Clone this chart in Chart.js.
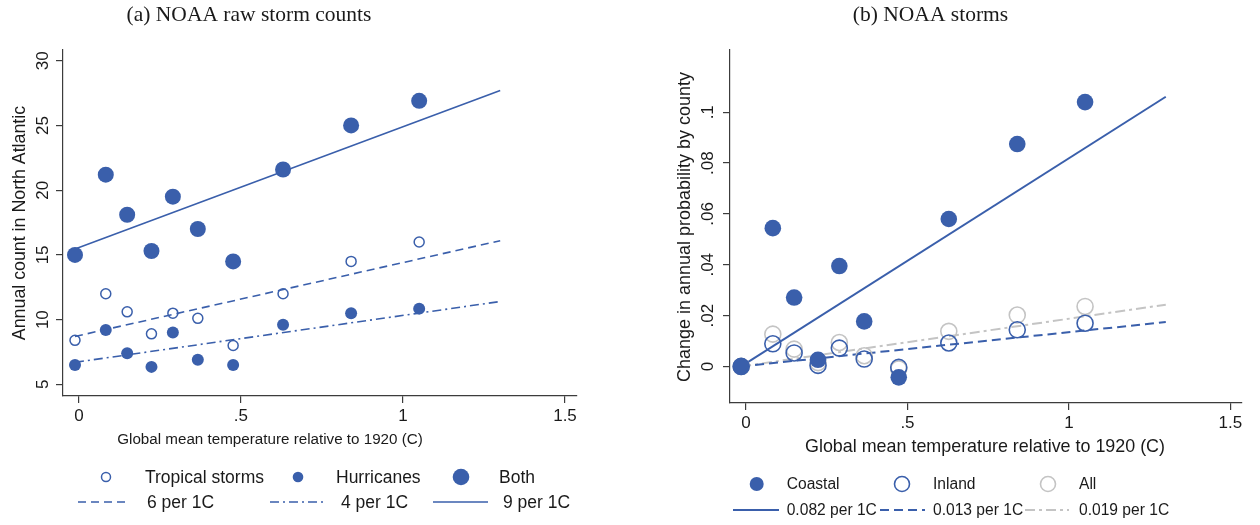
<!DOCTYPE html>
<html>
<head>
<meta charset="utf-8">
<script src="https://cdn.jsdelivr.net/npm/chart.js@4"></script>
<style>
  body { margin: 0; background: #fff; width: 1260px; height: 525px; overflow: hidden; }
  .panel { position: absolute; top: 0; width: 630px; height: 525px; }
  #pa { left: 0; }
  #pb { left: 630px; }
</style>
</head>
<body>
<div class="panel" id="pa"><canvas id="chartA" width="630" height="525"></canvas></div>
<div class="panel" id="pb"><canvas id="chartB" width="630" height="525"></canvas></div>
<script>
// ---- panel (a): NOAA raw storm counts ----
const tempA = [-0.012, 0.083, 0.149, 0.224, 0.29, 0.367, 0.476, 0.63, 0.84, 1.05];
const tropicalStorms = [8.4, 12.0, 10.6, 8.9, 10.5, 10.1, 8.0, 12.0, 14.5, 16.0];
const hurricanes = [6.5, 9.2, 7.4, 6.35, 9.0, 6.9, 6.5, 9.6, 10.5, 10.85];
const bothStorms = [15.0, 21.2, 18.1, 15.3, 19.5, 17.0, 14.5, 21.6, 25.0, 26.9];
const fitXA = [-0.012, 1.30];
const fitTropical = [8.7, 16.1];
const fitHurricanes = [6.7, 11.4];
const fitBoth = [15.45, 27.7];

// ---- panel (b): NOAA storms ----
const tempB = [-0.015, 0.083, 0.149, 0.223, 0.289, 0.366, 0.473, 0.628, 0.84, 1.05];
const coastal = [0, 0.0544, 0.0271, 0.0026, 0.0395, 0.0177, -0.0043, 0.058, 0.0875, 0.104];
const inland = [0, 0.0089, 0.0053, 0.0004, 0.0072, 0.0029, -0.0004, 0.0092, 0.0144, 0.017];
const allCounties = [0, 0.0127, 0.0068, 0.0015, 0.0094, 0.0042, -0.001, 0.0138, 0.0202, 0.0236];
const fitXB = [-0.015, 1.30];
const fitCoastal = [0, 0.1061];
const fitInland = [0, 0.01745];
const fitAll = [0, 0.0243];

// ticks
const xTicks = [0, 0.5, 1, 1.5];
const xTickLabels = ['0', '.5', '1', '1.5'];
const yTicksA = [5, 10, 15, 20, 25, 30];
const yTickLabelsA = ['5', '10', '15', '20', '25', '30'];
const yTicksB = [0, 0.02, 0.04, 0.06, 0.08, 0.1];
const yTickLabelsB = ['0', '.02', '.04', '.06', '.08', '.1'];

const BLUE = '#3a5fab';
const GRAY = '#c4c4c4';
const AXIS = '#3c3c3c';
const TEXT = '#1a1a1a';
const SANS = '"Liberation Sans", Arial, sans-serif';
const SERIF = '"Liberation Serif", "Times New Roman", serif';
const NONE = 'rgba(0,0,0,0)';

const pts = (xs, ys) => xs.map((x, i) => ({ x: x, y: ys[i] }));

function markers(label, ys, xs, r, filled, color, bw) {
  return {
    label: label, data: pts(xs, ys), showLine: false, order: 0,
    pointRadius: r, pointBorderWidth: filled ? 0 : bw,
    pointBorderColor: color, pointBackgroundColor: filled ? color : NONE,
    legendR: null, filled: filled
  };
}

function fitLine(label, xs, ys, color, width, dash) {
  return {
    label: label, data: pts(xs, ys), showLine: true, order: 5,
    pointRadius: 0, borderColor: color, borderWidth: width, borderDash: dash,
    fill: false
  };
}

// text decorations: titles, rotated y tick labels, legend
const decorPlugin = {
  id: 'decor',
  afterDraw(chart, args, o) {
    const ctx = chart.ctx;
    const ys = chart.scales.y;
    ctx.save();
    ctx.fillStyle = TEXT;

    // title
    ctx.font = o.titleFont;
    ctx.textAlign = 'center';
    ctx.textBaseline = 'middle';
    ctx.fillText(o.title, o.titleX, o.titleY);

    // y tick labels, rotated like Stata
    ctx.font = o.tickFont;
    ys.ticks.forEach((t, i) => {
      const py = ys.getPixelForValue(t.value);
      ctx.save();
      ctx.translate(o.yLabelX, py);
      ctx.rotate(-Math.PI / 2);
      ctx.fillText(o.yLabels[i], 0, 0);
      ctx.restore();
    });

    // axis titles
    ctx.font = o.yTitleFont;
    ctx.save();
    ctx.translate(o.yTitleX, o.yTitleY);
    ctx.rotate(-Math.PI / 2);
    ctx.fillText(o.yTitle, 0, 0);
    ctx.restore();
    ctx.font = o.xTitleFont;
    ctx.fillText(o.xTitle, o.xTitleX, o.xTitleY);

    // legend
    ctx.font = o.legendFont;
    ctx.textAlign = 'left';
    o.legend.forEach(it => {
      const ds = chart.data.datasets[it.ds];
      if (ds.showLine) {
        ctx.save();
        ctx.strokeStyle = ds.borderColor;
        ctx.lineWidth = ds.borderWidth;
        ctx.setLineDash(ds.borderDash || []);
        ctx.beginPath();
        ctx.moveTo(it.x[0], it.y);
        ctx.lineTo(it.x[1], it.y);
        ctx.stroke();
        ctx.restore();
      } else {
        ctx.save();
        ctx.beginPath();
        ctx.arc(it.x, it.y, it.r, 0, Math.PI * 2);
        if (ds.filled) {
          ctx.fillStyle = ds.pointBackgroundColor;
          ctx.fill();
        } else {
          ctx.strokeStyle = ds.pointBorderColor;
          ctx.lineWidth = ds.pointBorderWidth;
          ctx.stroke();
        }
        ctx.restore();
      }
      ctx.fillStyle = TEXT;
      ctx.fillText(ds.label, it.tx, it.y + 1);
    });
    ctx.restore();
  }
};

function axes(xMin, xMax, yMin, yMax, yTicks, xHeight, yWidth) {
  const grid = { drawOnChartArea: false, drawTicks: true, tickLength: 7, color: AXIS, tickColor: AXIS, lineWidth: 1.2 };
  return {
    x: {
      type: 'linear', min: xMin, max: xMax,
      afterBuildTicks: s => { s.ticks = xTicks.map(v => ({ value: v })); },
      afterFit: s => { s.height = xHeight; },
      grid: grid,
      border: { color: AXIS, width: 1.2 },
      ticks: {
        color: TEXT, padding: 3, maxRotation: 0,
        font: { family: SANS, size: 17 },
        callback: (v, i) => xTickLabels[i]
      }
    },
    y: {
      type: 'linear', min: yMin, max: yMax,
      afterBuildTicks: s => { s.ticks = yTicks.map(v => ({ value: v })); },
      afterFit: s => { s.width = yWidth; },
      grid: grid,
      border: { color: AXIS, width: 1.2 },
      ticks: { color: NONE, font: { size: 8 } }
    }
  };
}

new Chart(document.getElementById('chartA'), {
  type: 'scatter',
  data: {
    datasets: [
      markers('Tropical storms', tropicalStorms, tempA, 5, false, BLUE, 1.5),
      markers('Hurricanes', hurricanes, tempA, 6, true, BLUE),
      markers('Both', bothStorms, tempA, 8, true, BLUE),
      fitLine('6 per 1C', fitXA, fitTropical, BLUE, 1.6, [8, 5]),
      fitLine('4 per 1C', fitXA, fitHurricanes, BLUE, 1.6, [9, 4, 2, 4]),
      fitLine('9 per 1C', fitXA, fitBoth, BLUE, 1.6, [])
    ]
  },
  options: {
    responsive: false, animation: false, events: [],
    layout: { padding: { top: 50, right: 53, left: 0, bottom: 0 } },
    scales: axes(-0.049, 1.537, 4.1, 30.83, yTicksA, 129, 63),
    plugins: {
      legend: { display: false }, tooltip: { enabled: false },
      decor: {
        title: '(a) NOAA raw storm counts', titleFont: '21.5px ' + SERIF, titleX: 249, titleY: 15,
        tickFont: '17px ' + SANS, yLabels: yTickLabelsA, yLabelX: 43,
        yTitle: 'Annual count in North Atlantic', yTitleFont: '17.8px ' + SANS, yTitleX: 20, yTitleY: 223,
        xTitle: 'Global mean temperature relative to 1920 (C)', xTitleFont: '15.2px ' + SANS, xTitleX: 270, xTitleY: 440,
        legendFont: '17.5px ' + SANS,
        legend: [
          { ds: 0, x: 106, r: 4.5, tx: 145, y: 477 },
          { ds: 1, x: 298, r: 5.3, tx: 336, y: 477 },
          { ds: 2, x: 461, r: 8.3, tx: 499, y: 477 },
          { ds: 3, x: [78, 130], tx: 147, y: 502 },
          { ds: 4, x: [270, 327], tx: 341, y: 502 },
          { ds: 5, x: [433, 488], tx: 503, y: 502 }
        ]
      }
    }
  },
  plugins: [decorPlugin]
});

const coastalSet = markers('Coastal', coastal, tempB, 8.3, true, BLUE);
coastalSet.order = 0;
const inlandSet = markers('Inland', inland, tempB, 8, false, BLUE, 1.6);
inlandSet.order = 1;
const allSet = markers('All', allCounties, tempB, 8, false, GRAY, 1.6);
allSet.order = 2;

new Chart(document.getElementById('chartB'), {
  type: 'scatter',
  data: {
    datasets: [
      coastalSet, inlandSet, allSet,
      fitLine('0.082 per 1C', fitXB, fitCoastal, BLUE, 2, []),
      fitLine('0.013 per 1C', fitXB, fitInland, BLUE, 2, [9, 5]),
      fitLine('0.019 per 1C', fitXB, fitAll, GRAY, 2, [10, 4, 3, 4])
    ]
  },
  options: {
    responsive: false, animation: false, events: [],
    layout: { padding: { top: 50, right: 18, left: 0, bottom: 0 } },
    scales: axes(-0.0496, 1.536, -0.0144, 0.1245, yTicksB, 122, 100),
    plugins: {
      legend: { display: false }, tooltip: { enabled: false },
      decor: {
        title: '(b) NOAA storms', titleFont: '21.5px ' + SERIF, titleX: 300.5, titleY: 15,
        tickFont: '17px ' + SANS, yLabels: yTickLabelsB, yLabelX: 78,
        yTitle: 'Change in annual probability by county', yTitleFont: '18px ' + SANS, yTitleX: 55, yTitleY: 227,
        xTitle: 'Global mean temperature relative to 1920 (C)', xTitleFont: '17.9px ' + SANS, xTitleX: 355, xTitleY: 447,
        legendFont: '15.6px ' + SANS,
        legend: [
          { ds: 0, x: 126.7, r: 7, tx: 156.7, y: 484 },
          { ds: 1, x: 272, r: 7.5, tx: 303, y: 484 },
          { ds: 2, x: 418, r: 7.5, tx: 449, y: 484 },
          { ds: 3, x: [103, 149], tx: 156.7, y: 510 },
          { ds: 4, x: [250, 295], tx: 303, y: 510 },
          { ds: 5, x: [395, 439], tx: 449, y: 510 }
        ]
      }
    }
  },
  plugins: [decorPlugin]
});
</script>
</body>
</html>
